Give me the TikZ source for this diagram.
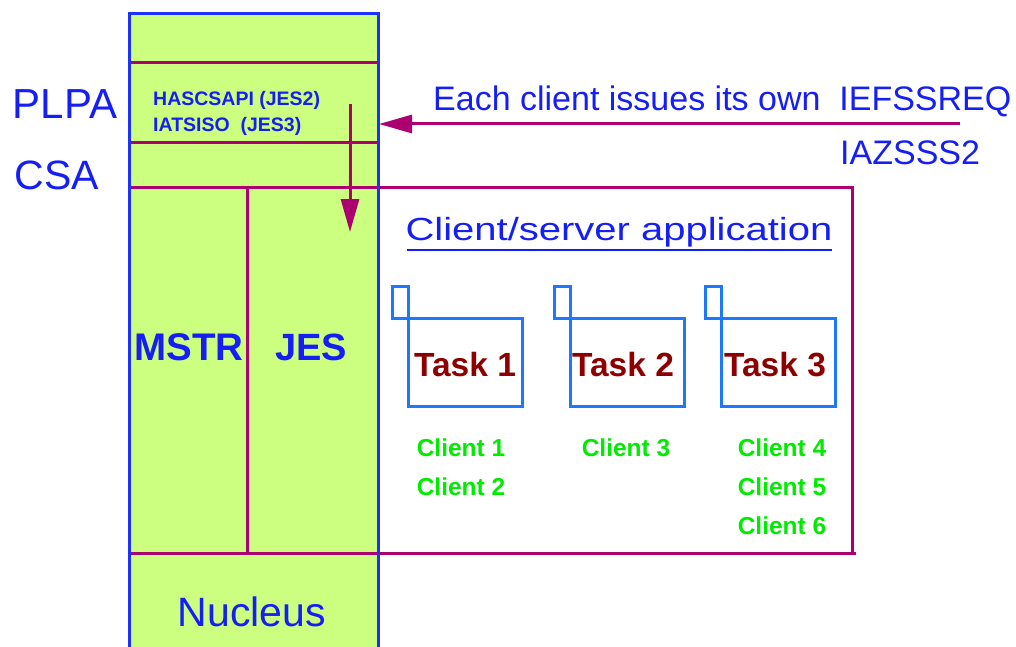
\documentclass[tikz,border=0pt]{standalone}
\usepackage{fontspec}
\usepackage{graphicx}
\setmainfont{Liberation Sans}
\usetikzlibrary{arrows.meta}
\definecolor{colgreen}{RGB}{204,255,128}
\definecolor{mag}{RGB}{172,0,112}
\definecolor{bord}{RGB}{30,50,255}
\definecolor{txtblue}{RGB}{20,30,245}
\definecolor{taskblue}{RGB}{30,120,255}
\definecolor{taskred}{RGB}{140,0,0}
\definecolor{clgreen}{RGB}{0,235,0}
\begin{document}
\begin{tikzpicture}[x=1pt,y=-1pt,
  magline/.style={draw=mag,line width=3pt},
  lbl/.style={inner sep=0pt,text=txtblue},
  tabbox/.style={draw=taskblue,line width=2.5pt,minimum width=16pt,minimum height=32pt,inner sep=0pt,anchor=north west},
  taskbox/.style={draw=taskblue,line width=2.5pt,minimum width=114pt,minimum height=88pt,inner sep=0pt,anchor=north west},
  tasktext/.style={inner sep=0pt,text=taskred,font=\fontsize{33.5}{36}\selectfont\bfseries},
  client/.style={inner sep=0pt,text=clgreen,font=\fontsize{24.5}{28}\selectfont\bfseries},
  arr/.style={draw=mag,line width=3pt,-{Triangle[length=33pt,width=18pt]}}]
\useasboundingbox (0,0) rectangle (1016,647);

% column
\fill[colgreen] (129,14) rectangle (378,700);
\draw[magline] (130,63) -- (377,63);
\draw[magline] (130,143) -- (378,143);
\draw[magline] (130,187) -- (852,187) -- (852,553);
\draw[magline] (130,553) -- (856,553);
\draw[magline] (247,187) -- (247,553);
\draw[draw=bord,line width=3pt] (129,700) -- (129,14) -- (378,14) -- (378,700);

% left labels
\node[lbl,font=\fontsize{42}{46}\selectfont] (plpa) at (65,104) {PLPA};
\node[lbl,font=\fontsize{41}{46}\selectfont] (csa) at (57,175) {CSA};

% column texts
\node[lbl,anchor=base west,font=\fontsize{19.5}{22}\selectfont\bfseries] (has) at (153,106) {HASCSAPI (JES2)};
\node[lbl,anchor=base west,font=\fontsize{19.5}{22}\selectfont\bfseries] (iat) at (153,132) {IATSISO\ \ (JES3)};
\node[lbl,font=\fontsize{38.5}{40}\selectfont\bfseries] (mstr) at (189,347) {MSTR};
\node[lbl,font=\fontsize{38}{40}\selectfont\bfseries] (jes) at (311,347) {JES};
\node[lbl,font=\fontsize{41}{44}\selectfont] (nuc) at (252,612) {Nucleus};

% right top texts
\node[lbl,anchor=west,font=\fontsize{34}{38}\selectfont] (each) at (433,101) {Each client issues its own\ \ IEFSSREQ};
\node[lbl,anchor=west,font=\fontsize{34}{38}\selectfont] (iaz) at (840,153) {IAZSSS2};

% arrows
\coordinate (hs) at (960,124);
\coordinate (he) at (379,124);
\coordinate (vs) at (350,104);
\coordinate (ve) at (350,232);
\draw[arr] (hs) -- (he);
\draw[arr] (vs) -- (ve);

% application
\node[lbl,font=\fontsize{32}{36}\selectfont] (app) at (619,232) {\scalebox{1.25}[1]{Client/server application}};
\draw[draw=txtblue,line width=2pt] (407,249.5) -- (832,249.5);

% tasks
\node[tabbox] (tab1) at (391,285) {};
\node[taskbox] (task1) at (407,317) {};
\node[tasktext] (tt1) at (465,365) {Task 1};
\node[tabbox] (tab2) at (553,285) {};
\node[taskbox] (task2) at (569,317) {};
\node[tasktext] (tt2) at (623,365) {Task 2};
\node[tabbox] (tab3) at (704,285) {};
\node[taskbox] (task3) at (720,317) {};
\node[tasktext] (tt3) at (775,365) {Task 3};

% clients
\node[client] (c1) at (461,448) {Client 1};
\node[client] (c2) at (461,487) {Client 2};
\node[client] (c3) at (626,448) {Client 3};
\node[client] (c4) at (782,448) {Client 4};
\node[client] (c5) at (782,487) {Client 5};
\node[client] (c6) at (782,526) {Client 6};
\end{tikzpicture}
\end{document}
